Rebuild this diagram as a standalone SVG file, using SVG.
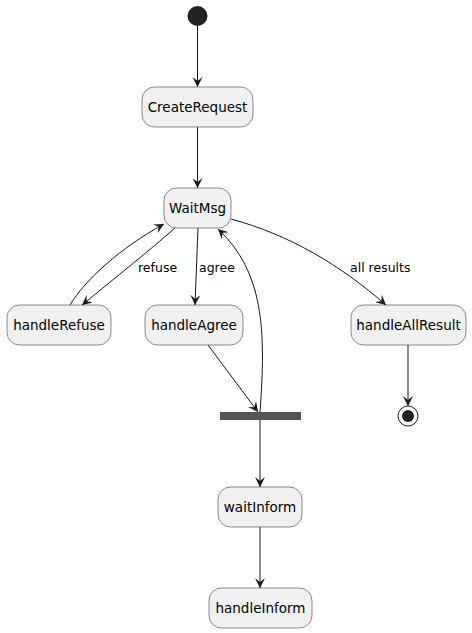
<svg xmlns="http://www.w3.org/2000/svg" width="472" height="633" viewBox="0 0 472 633">
<defs>
<marker id="arr" markerWidth="10" markerHeight="10" refX="10" refY="5" orient="auto" markerUnits="userSpaceOnUse" viewBox="0 0 10 10">
<path d="M0,0 L10,5 L0,10 L4,5 Z" fill="#181818"/>
</marker>
<style>
.node rect{fill:#F1F1F1;stroke:#181818;stroke-width:0.5}
.node text{font-family:"DejaVu Sans","Noto Sans",sans-serif;font-size:13.5px;fill:#000;text-anchor:middle}
.edges path{fill:none;stroke:#181818;stroke-width:1;marker-end:url(#arr)}
.lbl{font-family:"DejaVu Sans","Noto Sans",sans-serif;font-size:12.5px;fill:#000}
</style>
</defs>
<rect width="472" height="633" fill="#fff"/>
<g id="start"><circle cx="197.5" cy="16" r="10" fill="#222"/></g>
<g id="CreateRequest" class="node"><rect x="142" y="87" width="111" height="40" rx="12.5"/><text x="197.5" y="112">CreateRequest</text></g>
<g id="WaitMsg" class="node"><rect x="164" y="188" width="67" height="40" rx="12.5"/><text x="197.5" y="213">WaitMsg</text></g>
<g id="handleRefuse" class="node"><rect x="7" y="305" width="104" height="40" rx="12.5"/><text x="59" y="330">handleRefuse</text></g>
<g id="handleAgree" class="node"><rect x="145" y="305" width="98" height="40" rx="12.5"/><text x="194" y="330">handleAgree</text></g>
<g id="handleAllResult" class="node"><rect x="351" y="305" width="115" height="40" rx="12.5"/><text x="408.5" y="330">handleAllResult</text></g>
<g id="fork"><rect x="220" y="412" width="81" height="8" fill="#555555"/></g>
<g id="waitInform" class="node"><rect x="218" y="487" width="84" height="40" rx="12.5"/><text x="260" y="512">waitInform</text></g>
<g id="handleInform" class="node"><rect x="209" y="588" width="103" height="40" rx="12.5"/><text x="260.5" y="613">handleInform</text></g>
<g id="end"><circle cx="408" cy="416" r="10" fill="none" stroke="#222" stroke-width="1"/><circle cx="408" cy="416" r="6" fill="#222"/></g>
<g id="connectors" class="edges">
<path d="M197.5,26 L197.5,87"/>
<path d="M197.5,127 L197.5,188"/>
<path d="M175,228 C150,250 115,278 82,305"/>
<path d="M70,305 C85,280 120,248 164,224"/>
<path d="M198,228 L195,305"/>
<path d="M231,219 C290,235 340,265 386,305"/>
<path d="M208,345 L258,412"/>
<path d="M260,412 C266,330 264,272 218,229"/>
<path d="M260,420 L260,487"/>
<path d="M260,527 L260,588"/>
<path d="M408,345 L408,406"/>
<text class="lbl" x="138" y="272">refuse</text>
<text class="lbl" x="199" y="272">agree</text>
<text class="lbl" x="350" y="272">all results</text>
</g>
</svg>
